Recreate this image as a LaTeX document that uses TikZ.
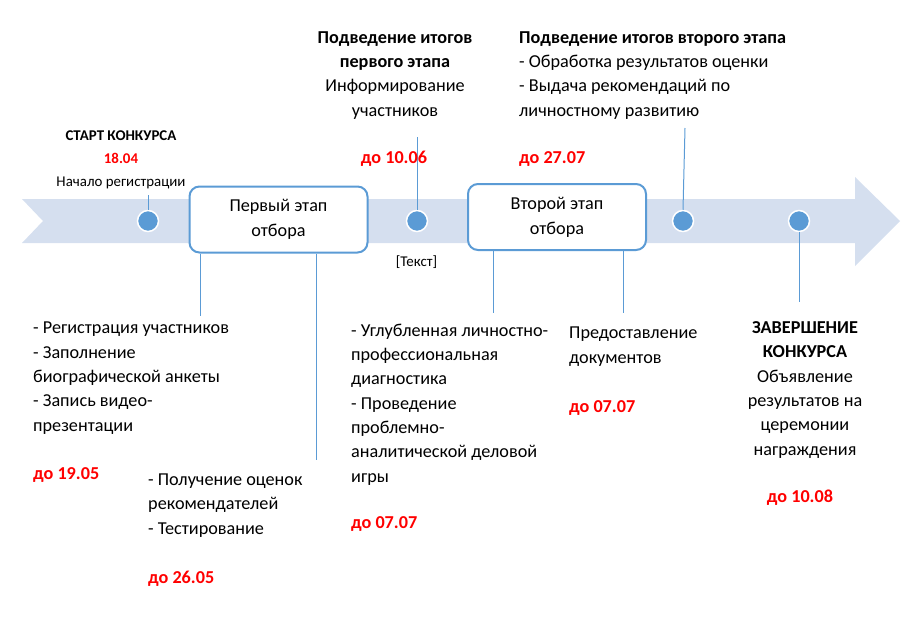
\documentclass[tikz,border=0pt]{standalone}
\usepackage{fontspec}
\setmainfont{Carlito}
\usetikzlibrary{positioning}
\definecolor{band}{HTML}{D5DFEF}
\definecolor{accent}{HTML}{5B9BD5}
\definecolor{datered}{HTML}{FF0000}

\begin{document}
\begin{tikzpicture}[x=1pt, y=-1pt]
  \tikzset{
    dot/.style={circle,fill=accent,draw=white,line width=1.5pt,minimum size=21pt,inner sep=0pt},
    stage/.style={rectangle,rounded corners=10pt,draw=accent,line width=2pt,fill=white,
      minimum width=178pt,minimum height=66pt,align=center,font=\fontsize{18.2}{24.8}\selectfont},
    txt/.style={inner sep=0pt,anchor=base west,align=left,font=\fontsize{18.2}{24.3}\selectfont},
    ctxt/.style={txt,anchor=base,align=center},
    small/.style={inner sep=0pt,anchor=base,font=\fontsize{14.9}{18}\selectfont},
    date/.style={txt,text=datered,font=\fontsize{18.2}{24.3}\selectfont\bfseries},
    tick/.style={draw=accent,line width=1pt}
  }
  \useasboundingbox (0,0) rectangle (913,621);

  % timeline arrow
  \fill[band] (22,199) -- (855,199) -- (855,177) -- (900,221) -- (855,266)
    -- (855,243) -- (22,243) -- (43,221) -- cycle;

  % points and stages on the line
  \node[dot] (d1) at (148,221) {};
  \node[dot] (d2) at (417,221) {};
  \node[dot] (d3) at (683,221) {};
  \node[dot] (d4) at (799,221) {};
  \node[stage] (s1) at (278.5,219.5) {Первый этап\\отбора};
  \node[stage] (s2) at (557,217) {Второй этап\\отбора};

  % ends of the ticks
  \coordinate (t1) at (148,195);
  \coordinate (t2) at (417,137);
  \coordinate (t3) at (685,128);
  \coordinate (t4) at (799,302);
  \coordinate (b1) at (200,316);
  \coordinate (b2) at (316,460);
  \coordinate (b3) at (493,313);
  \coordinate (b4) at (623,313);

  \draw[tick] (d1.north) -- (t1);
  \draw[tick] (d2.north) -- (t2);
  \draw[tick] (d3.north) -- (t3);
  \draw[tick] (d4.south) -- (t4);
  \draw[tick] (s1.south -| b1) -- (b1);
  \draw[tick] (s1.south -| b2) -- (b2);
  \draw[tick] (s2.south -| b3) -- (b3);
  \draw[tick] (s2.south -| b4) -- (b4);

  % start (multi-line nodes sit on their last baseline)
  \node[small,font=\fontsize{14.9}{18}\selectfont\bfseries] (start) at (121,140) {СТАРТ КОНКУРСА};
  \node[small,text=datered,font=\fontsize{14.9}{18}\selectfont\bfseries] (start date) at (121,163) {18.04};
  \node[small] (start note) at (121,186) {Начало регистрации};

  % results of stage one
  \node[ctxt] (res1) at (395,116) {\textbf{Подведение итогов}\\\textbf{первого этапа}\\Информирование\\участников};
  \node[date,anchor=base] (res1 date) at (394,163) {до 10.06};
  \node[small] (placeholder) at (416.5,266) {[Текст]};

  % results of stage two
  \node[txt] (res2) at (519,116) {\textbf{Подведение итогов второго этапа}\\- Обработка результатов оценки\\- Выдача рекомендаций по\\личностному развитию};
  \node[date] (res2 date) at (519,163) {до 27.07};

  % stage one tasks
  \node[txt] (task1) at (33,431) {- Регистрация участников\\- Заполнение\\биографической анкеты\\- Запись видео-\\презентации};
  \node[date] (task1 date) at (33,479) {до 19.05};
  \node[txt] (task2) at (148,534) {- Получение оценок\\рекомендателей\\- Тестирование};
  \node[date] (task2 date) at (148,583) {до 26.05};

  % stage two tasks
  \node[txt] (task3) at (351,482) {- Углубленная личностно-\\профессиональная\\диагностика\\- Проведение\\проблемно-\\аналитической деловой\\игры};
  \node[date] (task3 date) at (351,528) {до 07.07};
  \node[txt] (task4) at (569,363) {Предоставление\\документов};
  \node[date] (task4 date) at (569,412) {до 07.07};

  % finish
  \node[ctxt] (finish) at (805,455) {\textbf{ЗАВЕРШЕНИЕ}\\\textbf{КОНКУРСА}\\Объявление\\результатов на\\церемонии\\награждения};
  \node[date,anchor=base] (finish date) at (800,502) {до 10.08};
\end{tikzpicture}
\end{document}
